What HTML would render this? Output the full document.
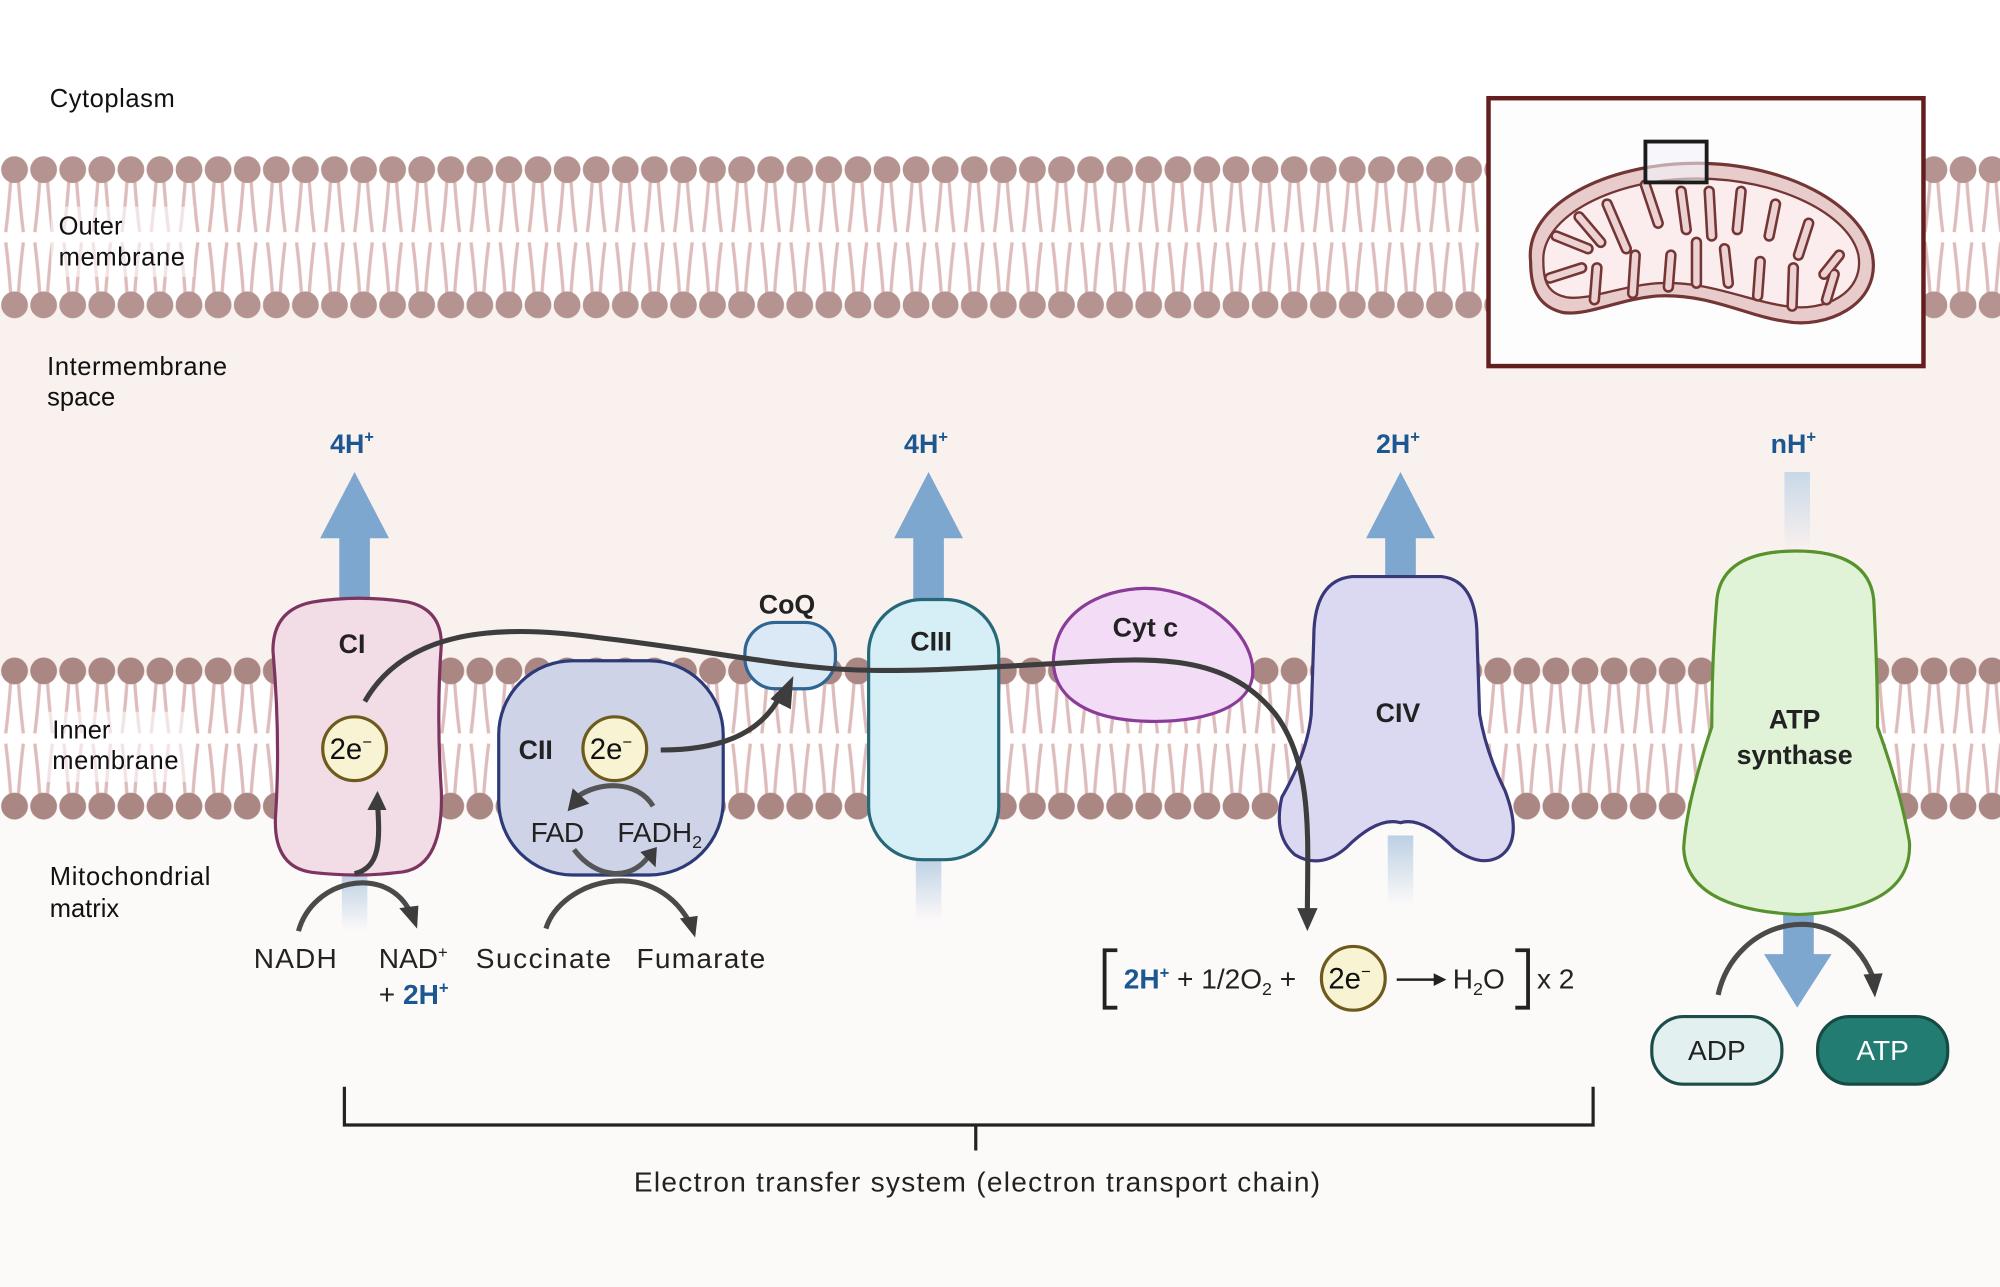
<!DOCTYPE html>
<html><head><meta charset="utf-8"><style>
html,body{margin:0;padding:0;background:#fff}
svg{display:block}
text{font-family:"Liberation Sans",sans-serif}
</style></head><body>
<svg width="2000" height="1287" viewBox="0 0 1568 1009" xmlns="http://www.w3.org/2000/svg">
<defs>
<pattern id="lip" x="0" y="122" width="22.8" height="128" patternUnits="userSpaceOnUse">
  <g stroke="#dfbcbc" stroke-width="2.6" fill="none">
    <path d="M8.5 18 Q7 40 4.5 60"/><path d="M14.3 18 Q15.8 40 18.3 60"/>
    <path d="M4.5 68 Q7 88 8.5 110"/><path d="M18.3 68 Q15.8 88 14.3 110"/>
  </g>
  <circle cx="11.4" cy="11" r="10.5" fill="#b59390"/>
  <circle cx="11.4" cy="117" r="10.5" fill="#b59390"/>
</pattern>
<pattern id="lipi" x="0" y="515" width="22.8" height="128" patternUnits="userSpaceOnUse">
  <g stroke="#dfbcbc" stroke-width="2.6" fill="none">
    <path d="M8.5 18 Q7 40 4.5 60"/><path d="M14.3 18 Q15.8 40 18.3 60"/>
    <path d="M4.5 68 Q7 88 8.5 110"/><path d="M18.3 68 Q15.8 88 14.3 110"/>
  </g>
  <circle cx="11.4" cy="11" r="10.5" fill="#ab8784"/>
  <circle cx="11.4" cy="117" r="10.5" fill="#ab8784"/>
</pattern>
<linearGradient id="fadeU" x1="0" y1="1" x2="0" y2="0"><stop offset="0" stop-color="#c8d8e8" stop-opacity="0"/><stop offset="1" stop-color="#c8d8e8"/></linearGradient>
<linearGradient id="fadeD" x1="0" y1="0" x2="0" y2="1"><stop offset="0" stop-color="#bcd0e4"/><stop offset="1" stop-color="#bcd0e4" stop-opacity="0"/></linearGradient>
</defs>

<rect x="0" y="240" width="1568" height="290" fill="#f9f1ee"/>
<rect x="0" y="630" width="1568" height="379" fill="#fcfaf9"/>

<rect x="0" y="122" width="1568" height="128" fill="url(#lip)"/>
<rect x="0" y="515" width="1568" height="128" fill="url(#lipi)"/>

<rect x="40" y="162" width="112" height="55" fill="#fff" opacity="0.6"/>
<rect x="36" y="558" width="114" height="55" fill="#fff" opacity="0.6"/>

<g font-size="20" fill="#111">
<text x="39" y="84" textLength="98">Cytoplasm</text>
<text x="46" y="184">Outer</text>
<text x="46" y="208" textLength="99">membrane</text>
<text x="37" y="294" textLength="141">Intermembrane</text>
<text x="37" y="318">space</text>
<text x="41" y="579">Inner</text>
<text x="41" y="603" textLength="99">membrane</text>
<text x="39" y="694" textLength="126">Mitochondrial</text>
<text x="39" y="719">matrix</text>
</g>

<!-- inset -->
<rect x="1167" y="77" width="341" height="210" fill="#fdfdfd" stroke="#651e1e" stroke-width="3.5"/>
<path d="M1200 205 C1195 160 1260 128 1330 128 C1400 128 1460 160 1468 200 C1475 240 1430 258 1400 252 C1370 248 1340 230 1300 232 C1270 234 1245 248 1225 245 C1205 240 1200 225 1200 205 Z" fill="#e8cccc" stroke="#743535" stroke-width="2.5"/>
<path d="M1210 205 C1208 170 1265 140 1330 140 C1395 140 1450 168 1457 200 C1462 230 1430 245 1400 240 C1370 236 1340 220 1300 222 C1270 224 1245 236 1228 233 C1213 230 1210 220 1210 205 Z" fill="#fbeded" stroke="#743535" stroke-width="1.8"/>
<g stroke="#743535" stroke-width="9" fill="none" stroke-linecap="round">
<path d="M1215 218 L1240 210"/><path d="M1220 185 L1245 195"/><path d="M1238 170 L1255 190"/><path d="M1260 160 L1275 195"/>
<path d="M1290 145 L1300 175"/><path d="M1318 150 L1322 180"/><path d="M1340 150 L1342 185"/><path d="M1365 150 L1362 180"/>
<path d="M1392 160 L1387 185"/><path d="M1418 175 L1410 200"/><path d="M1442 200 L1430 215"/>
<path d="M1250 235 L1252 210"/><path d="M1280 230 L1282 200"/><path d="M1308 225 L1310 200"/><path d="M1330 222 L1330 190"/>
<path d="M1355 222 L1352 195"/><path d="M1378 232 L1380 205"/><path d="M1405 240 L1406 210"/><path d="M1432 235 L1438 215"/>
</g>
<g stroke="#ecd2d2" stroke-width="5" fill="none" stroke-linecap="round">
<path d="M1215 218 L1240 210"/><path d="M1220 185 L1245 195"/><path d="M1238 170 L1255 190"/><path d="M1260 160 L1275 195"/>
<path d="M1290 145 L1300 175"/><path d="M1318 150 L1322 180"/><path d="M1340 150 L1342 185"/><path d="M1365 150 L1362 180"/>
<path d="M1392 160 L1387 185"/><path d="M1418 175 L1410 200"/><path d="M1442 200 L1430 215"/>
<path d="M1250 235 L1252 210"/><path d="M1280 230 L1282 200"/><path d="M1308 225 L1310 200"/><path d="M1330 222 L1330 190"/>
<path d="M1355 222 L1352 195"/><path d="M1378 232 L1380 205"/><path d="M1405 240 L1406 210"/><path d="M1432 235 L1438 215"/>
</g>
<rect x="1290" y="111" width="48" height="32" fill="#f3f4fa" fill-opacity="0.6" stroke="#1c1c1c" stroke-width="3"/>

<rect x="268" y="685" width="20" height="45" fill="url(#fadeD)"/>
<rect x="718" y="672" width="20" height="50" fill="url(#fadeD)"/>
<rect x="1088" y="655" width="20" height="55" fill="url(#fadeD)"/>
<rect x="1399" y="370" width="20" height="62" fill="url(#fadeU)"/>

<g fill="#7ea7cf">
<rect x="266" y="420" width="24" height="55"/><path d="M251 422 L305 422 L278 370 Z"/>
<rect x="716" y="420" width="24" height="55"/><path d="M701 422 L755 422 L728 370 Z"/>
<rect x="1086" y="420" width="24" height="40"/><path d="M1071 422 L1125 422 L1098 370 Z"/>
<rect x="1398" y="710" width="24" height="40"/><path d="M1383 748 L1436 748 L1409 790 Z"/>
</g>
<g font-size="21" font-weight="bold" fill="#1d5791" text-anchor="middle">
<text x="276" y="355">4H<tspan font-size="13" dy="-8">+</tspan></text>
<text x="726" y="355">4H<tspan font-size="13" dy="-8">+</tspan></text>
<text x="1096" y="355">2H<tspan font-size="13" dy="-8">+</tspan></text>
<text x="1406" y="355">nH<tspan font-size="13" dy="-8">+</tspan></text>
</g>

<path d="M245 472 Q280 466 320 472 Q346 478 346 505 Q342 560 346 620 Q348 682 312 684 Q280 688 245 684 Q214 680 216 640 Q220 580 214 510 Q214 478 245 472 Z" fill="#f2dce6" stroke="#7d3560" stroke-width="2.5"/>
<text x="276" y="512" font-size="21" font-weight="bold" text-anchor="middle" fill="#222">CI</text>
<rect x="391" y="518" width="176" height="168" rx="58" fill="#ced3e7" stroke="#2c3a78" stroke-width="2.5"/>
<text x="420" y="595" font-size="21" font-weight="bold" text-anchor="middle" fill="#222">CII</text>
<rect x="584" y="488" width="71" height="52" rx="24" fill="#dbe9f6" stroke="#2e6593" stroke-width="2.5"/>
<text x="617" y="481" font-size="21" font-weight="bold" text-anchor="middle" fill="#222">CoQ</text>
<rect x="681" y="470" width="102" height="204" rx="42" fill="#d6eef5" stroke="#276878" stroke-width="2.5"/>
<text x="730" y="510" font-size="21" font-weight="bold" text-anchor="middle" fill="#222">CIII</text>
<path d="M826 515 C830 470 880 458 910 462 C950 468 985 500 982 530 C978 560 930 568 890 565 C850 562 824 545 826 515 Z" fill="#f3dcf6" stroke="#8b3b98" stroke-width="2.5"/>
<text x="898" y="499" font-size="21" font-weight="bold" text-anchor="middle" fill="#222">Cyt c</text>
<path d="M1060 452 L1130 452 Q1158 455 1158 500 L1160 560 Q1165 590 1180 620 Q1195 660 1175 672 Q1160 680 1140 665 Q1115 640 1098 645 Q1080 640 1055 665 Q1035 682 1015 670 Q998 655 1005 625 Q1025 590 1028 560 L1030 500 Q1030 455 1060 452 Z" fill="#dbd9f2" stroke="#393878" stroke-width="2.5"/>
<text x="1096" y="566" font-size="21" font-weight="bold" text-anchor="middle" fill="#222">CIV</text>
<path d="M1408 432 Q1465 432 1469 470 Q1472 530 1472 570 Q1490 620 1497 660 Q1500 713 1410 717 Q1322 713 1320 665 Q1322 630 1342 570 Q1342 520 1346 470 Q1350 432 1408 432 Z" fill="#e0f3d7" stroke="#57922d" stroke-width="2.5"/>
<text x="1407" y="571" font-size="21" font-weight="bold" text-anchor="middle" fill="#222">ATP</text>
<text x="1407" y="599" font-size="21" font-weight="bold" text-anchor="middle" fill="#222">synthase</text>

<path d="M286 550 C320 490 400 490 470 500 C540 508 600 520 650 524 C700 528 760 524 830 520 C900 516 960 510 1000 560 C1030 600 1025 660 1025 715" fill="none" stroke="#3d3d3d" stroke-width="4"/>
<path d="M1017 712 L1033 712 L1025 730 Z" fill="#3d3d3d"/>
<path d="M518 588 C560 588 595 578 612 545" fill="none" stroke="#3d3d3d" stroke-width="4"/>
<path d="M604 548 L622 530 L620 556 Z" fill="#3d3d3d"/>
<path d="M512 632 C500 612 470 612 452 625" fill="none" stroke="#555" stroke-width="4"/>
<path d="M445 636 L449 618 L462 630 Z" fill="#3d3d3d"/>
<path d="M450 666 C468 690 495 690 508 672" fill="none" stroke="#555" stroke-width="4"/>
<path d="M502 668 L515 664 L514 680 Z" fill="#3d3d3d"/>
<path d="M234 730 C245 690 300 678 320 712" fill="none" stroke="#4a4a4a" stroke-width="4"/>
<path d="M313 712 L328 710 L327 728 Z" fill="#3d3d3d"/>
<path d="M278 685 C298 680 298 660 296 630" fill="none" stroke="#3d3d3d" stroke-width="4"/>
<path d="M288 635 L296 620 L303 635 Z" fill="#3d3d3d"/>
<path d="M428 728 C440 690 510 670 540 722" fill="none" stroke="#4a4a4a" stroke-width="4"/>
<path d="M533 720 L547 718 L545 735 Z" fill="#3d3d3d"/>
<path d="M1347 780 C1360 720 1440 700 1468 765" fill="none" stroke="#4a4a4a" stroke-width="4"/>
<path d="M1461 764 L1476 763 L1470 782 Z" fill="#3d3d3d"/>

<g fill="#f7f3d3" stroke="#6d5a1c" stroke-width="2.5">
<circle cx="278" cy="587" r="25"/><circle cx="482" cy="587" r="25"/><circle cx="1061" cy="767" r="25"/>
</g>
<g font-size="23" text-anchor="middle" fill="#111">
<text x="275" y="595">2e<tspan font-size="13" dy="-9">−</tspan></text>
<text x="479" y="595">2e<tspan font-size="13" dy="-9">−</tspan></text>
<text x="1058" y="775">2e<tspan font-size="13" dy="-9">−</tspan></text>
</g>

<g font-size="22" fill="#222">
<text x="416" y="660" textLength="42">FAD</text>
<text x="484" y="660">FADH<tspan font-size="14" dy="5">2</tspan></text>
<text x="199" y="759" textLength="65">NADH</text>
<text x="297" y="759">NAD<tspan font-size="13" dy="-8">+</tspan></text>
<text x="297" y="787">+ <tspan fill="#1d5791" font-weight="bold">2H</tspan><tspan fill="#1d5791" font-weight="bold" font-size="13" dy="-8">+</tspan></text>
<text x="373" y="759" textLength="106">Succinate</text>
<text x="499" y="759" textLength="101">Fumarate</text>
</g>

<path d="M876 745 L866 745 L866 790 L876 790" fill="none" stroke="#222" stroke-width="3"/>
<path d="M1188 745 L1198 745 L1198 790 L1188 790" fill="none" stroke="#222" stroke-width="3"/>
<text x="881" y="775" font-size="22" fill="#222"><tspan fill="#1d5791" font-weight="bold">2H</tspan><tspan fill="#1d5791" font-weight="bold" font-size="13" dy="-8">+</tspan><tspan dy="8"> + 1/2O</tspan><tspan font-size="14" dy="5">2</tspan><tspan dy="-5"> +</tspan></text>
<path d="M1095 768 L1126 768" stroke="#222" stroke-width="2"/><path d="M1124 763 L1134 768 L1124 773 Z" fill="#222"/>
<text x="1139" y="775" font-size="22" fill="#222">H<tspan font-size="14" dy="5">2</tspan><tspan dy="-5">O</tspan></text>
<text x="1205" y="775" font-size="22" fill="#222">x 2</text>

<rect x="1295" y="797" width="102" height="53" rx="25" fill="#e2f1f0" stroke="#1d4d4a" stroke-width="2.5"/>
<text x="1346" y="831" font-size="22" text-anchor="middle" fill="#222">ADP</text>
<rect x="1425" y="797" width="102" height="53" rx="25" fill="#237c72" stroke="#164a44" stroke-width="2.5"/>
<text x="1476" y="831" font-size="22" text-anchor="middle" fill="#fff">ATP</text>

<path d="M270 852 L270 882 L1249 882 L1249 852 M765 882 L765 902" fill="none" stroke="#222" stroke-width="2.5"/>
<text x="497" y="934" font-size="22" fill="#222" textLength="538">Electron transfer system (electron transport chain)</text>
</svg>
</body></html>
